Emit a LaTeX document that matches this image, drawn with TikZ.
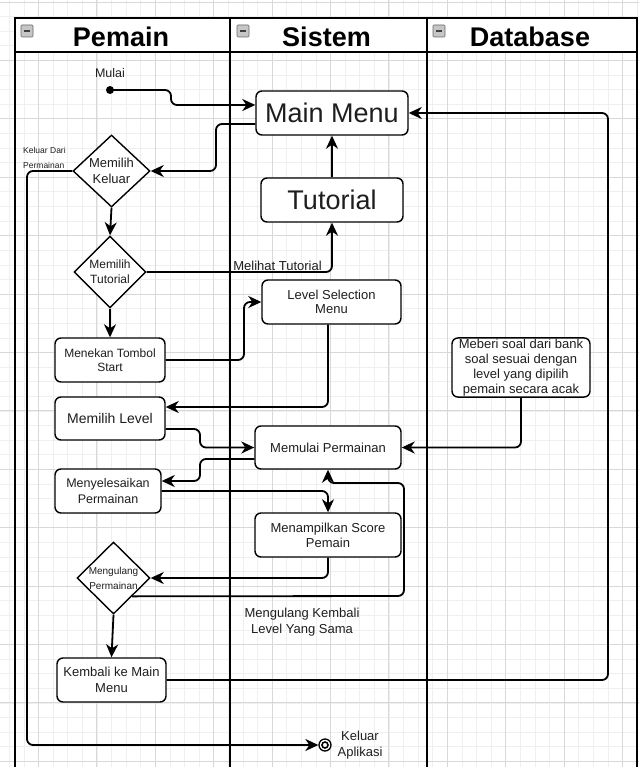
\documentclass[tikz,border=0pt]{standalone}
\usepackage{fontspec}
\setmainfont{Liberation Sans}
\usetikzlibrary{arrows.meta,shapes.geometric,calc}
\definecolor{tc}{RGB}{30,30,30}
\definecolor{gminc}{RGB}{239,239,239}
\definecolor{gmajc}{RGB}{216,216,216}
\begin{document}
\begin{tikzpicture}[x=1pt,y=-1pt,
  gmin/.style={draw=gminc, line width=0.8pt},
  gmaj/.style={draw=gmajc, line width=0.9pt},
  lane/.style={line width=1.8pt, draw=black},
  box/.style={draw, line width=1.4pt, rounded corners=6pt, fill=white, align=center, inner sep=1pt, text=tc},
  dia/.style={draw, diamond, line width=1.4pt, fill=white, inner sep=0pt},
  flow/.style={line width=1.8pt, rounded corners=6pt, -{Stealth[length=13pt,width=12pt,inset=4pt]}},
  lbl/.style={align=center, text=tc, inner sep=0pt},
  hdr/.style={font=\fontsize{27}{30}\selectfont\bfseries, inner sep=0pt},
]
\useasboundingbox (0,0) rectangle (639,767);
\fill[white] (0,0) rectangle (639,767);
% grid
\foreach \i in {0,...,43} \draw[gmin] ({9.3+14.6*\i},0) -- ++(0,767);
\foreach \j in {0,...,52} \draw[gmin] (0,{2.1+14.6*\j}) -- ++(639,0);
\foreach \i in {0,...,10} \draw[gmaj] ({38.5+58.4*\i},0) -- ++(0,767);
\foreach \j in {0,...,13} \draw[gmaj] (0,{2.1+58.4*\j}) -- ++(639,0);
% lanes
\fill[white] (15,18) rectangle (637,52);
\draw[lane] (15,772) -- (15,18) -- (637,18) -- (637,772);
\draw[lane] (15,52) -- (637,52);
\draw[lane] (230,18) -- (230,772);
\draw[lane] (427,18) -- (427,772);
\foreach \x in {21,237,433}{
  \draw[fill=gray!45, draw=gray!80!black, line width=0.6pt, rounded corners=1pt] (\x,25) rectangle ++(12,12);
  \draw[line width=1.4pt, black!75] ({\x+3},31) -- ++(6,0);
}
\node[hdr] (h1) at (121,37) {Pemain};
\node[hdr] (h2) at (326.5,37) {Sistem};
\node[hdr] (h3) at (530,37) {Database};
% nodes
\node[lbl, font=\fontsize{12.5}{15}\selectfont] (mulai) at (110,73) {Mulai};
\node[circle, fill=black, inner sep=0pt, minimum size=8pt] (sd) at (110,90) {};
\node[box, minimum width=152pt, minimum height=44pt, font=\fontsize{27}{30}\selectfont] (mm) at (332,113) {Main Menu};
\node[box, minimum width=142pt, minimum height=44pt, font=\fontsize{27}{30}\selectfont] (tut) at (332,200) {Tutorial};
\node[dia, minimum width=77pt, minimum height=72pt] (dk) at (111.5,171) {};
\node[lbl, font=\fontsize{13}{15.5}\selectfont] (dkt) at (dk) {Memilih\\Keluar};
\node[lbl, anchor=west, align=left, font=\fontsize{8.5}{15}\selectfont] (kdp) at (23,157.5) {Keluar Dari\\Permainan};
\node[dia, minimum width=72pt, minimum height=72pt] (dt) at (110,272) {};
\node[lbl, font=\fontsize{12}{15}\selectfont] (dtt) at (dt) {Memilih\\Tutorial};
\node[box, minimum width=139pt, minimum height=44pt, font=\fontsize{13}{14.5}\selectfont] (lsm) at (331.5,302) {Level Selection\\Menu};
\node[box, minimum width=110pt, minimum height=44pt, font=\fontsize{12}{14}\selectfont] (mtp) at (110,360) {Menekan Tombol\\Start};
\node[box, minimum width=138pt, minimum height=59pt, font=\fontsize{13}{15}\selectfont] (db) at (521,367.5) {Meberi soal dari bank\\soal sesuai dengan\\level yang dipilih\\pemain secara acak};
\node[box, minimum width=110pt, minimum height=43pt, font=\fontsize{14}{16}\selectfont] (ml) at (110,418.5) {Memilih Level};
\node[box, minimum width=146pt, minimum height=43pt, font=\fontsize{13}{15}\selectfont] (mp) at (328,447.5) {Memulai Permainan};
\node[box, minimum width=106pt, minimum height=44pt, font=\fontsize{12.5}{15.5}\selectfont] (msp) at (108,491) {Menyelesaikan\\Permainan};
\node[box, minimum width=146pt, minimum height=44pt, font=\fontsize{13}{15}\selectfont] (score) at (328,535) {Menampilkan Score\\Pemain};
\node[dia, minimum width=73pt, minimum height=72pt] (du) at (113.5,578) {};
\node[lbl, font=\fontsize{10}{15}\selectfont] (dut) at (du) {Mengulang\\Permainan};
\node[box, minimum width=109pt, minimum height=44pt, font=\fontsize{13}{15.5}\selectfont] (kmm) at (111.5,680) {Kembali ke Main\\Menu};
\node[lbl, font=\fontsize{13}{15.5}\selectfont] (mks) at (302,622) {Mengulang Kembali\\Level Yang Sama};
\node[circle, draw, line width=1.3pt, fill=white, minimum size=12pt, inner sep=0pt] (endc) at (325,745) {};
\node[circle, draw, line width=1.6pt, minimum size=6pt, inner sep=0pt] (endi) at (endc) {};
\node[lbl, font=\fontsize{13}{15.5}\selectfont] (endt) at (360,745) {Keluar\\Aplikasi};
% connectors
\draw[flow] (sd.center) -- (171,90) -- (171,105) -- ($(mm.west)+(0,-8)$);
\draw[flow] ($(mm.west)+(0,11)$) -- (216,124) -- (216,171) -- (dk.east);
\draw[flow] (dk.west) -- (27,171) -- (27,745) -- (endc.west);
\draw[flow] (tut.north) -- (mm.south);
\draw[flow] (dk.south) -- (dt.north);
\draw[flow] (dt.east) -| (tut.south);
\node[lbl, font=\fontsize{13}{15}\selectfont] (mt) at (277.5,265.5) {Melihat Tutorial};
\draw[flow] (dt.south) -- (mtp.north);
\draw[flow] (mtp.east) -- (244,360) |- (lsm.west);
\draw[flow] ($(lsm.south)+(-3.5,0)$) |- ($(ml.east)+(0,-11.5)$);
\draw[flow] ($(ml.east)+(0,10.5)$) -- (200,429) |- (mp.west);
\draw[flow] (db.south) |- (mp.east);
\draw[flow] ($(mp.west)+(0,11.5)$) -- (200,459) |- ($(msp.east)+(0,-10)$);
\draw[flow] (msp.east) -| (score.north);
\draw[flow] (score.south) |- (du.east);
\draw[flow] ($(du.east)!0.5!(du.south)$) -- (404,596) -- (404,483) -- (328,483) -- (mp.south);
\draw[flow] (du.south) -- (kmm.north);
\draw[flow] (kmm.east) -- (608,680) |- (mm.east);
\end{tikzpicture}
\end{document}
